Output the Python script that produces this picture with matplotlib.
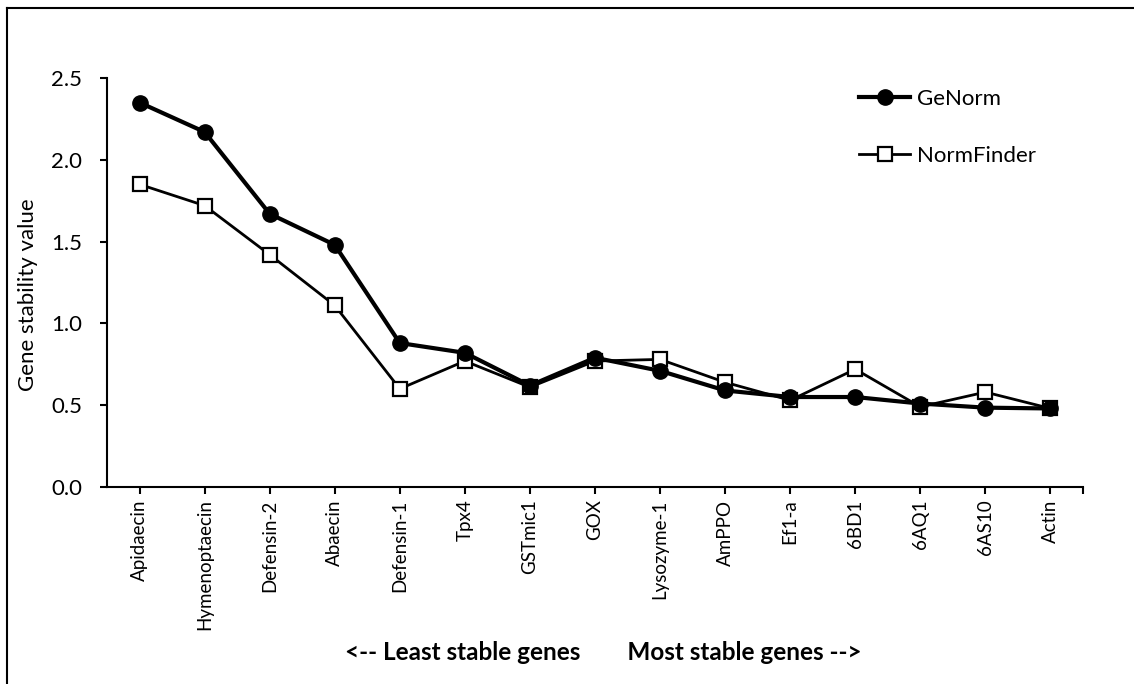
import numpy as np
import matplotlib
matplotlib.use('Agg')
import matplotlib.pyplot as plt
from matplotlib.lines import Line2D

plt.rcParams['font.family'] = ['Lato', 'DejaVu Sans']

genes = ['Apidaecin', 'Hymenoptaecin', 'Defensin-2', 'Abaecin', 'Defensin-1', 'Tpx4',
         'GSTmic1', 'GOX', 'Lysozyme-1', 'AmPPO', 'Ef1-a', '6BD1', '6AQ1', '6AS10', 'Actin']
genorm = [2.35, 2.17, 1.67, 1.48, 0.88, 0.82, 0.62, 0.79, 0.71, 0.59, 0.55, 0.55, 0.51, 0.485, 0.48]
normfinder = [1.85, 1.72, 1.42, 1.11, 0.60, 0.77, 0.61, 0.77, 0.78, 0.64, 0.53, 0.72, 0.49, 0.58, 0.48]
yticks = [0.0, 0.5, 1.0, 1.5, 2.0, 2.5]

W, H = 1134, 684
fig = plt.figure(figsize=(W / 100, H / 100), dpi=100)
ax = fig.add_axes([107 / W, 1 - 487 / H, 976 / W, 409 / H])

x = np.arange(len(genes))
ax.plot(x, normfinder, c='k', lw=2, marker='s', ms=10, mfc='white', mec='k', mew=1.6,
        label='NormFinder', zorder=2)
ax.plot(x, genorm, c='k', lw=3, marker='o', ms=11, mfc='k', mec='k',
        label='GeNorm', zorder=3)

ax.set_xlim(-0.5, len(genes) - 0.5)
ax.set_ylim(0, 2.5)
ax.set_yticks(yticks)
ax.set_yticklabels([f'{v:.1f}' for v in yticks], fontsize=16)
ax.set_xticks(x)
ax.set_xticklabels(genes, rotation=90, fontsize=13.5)
ax.set_xticks([len(genes) - 0.5], minor=True)
ax.tick_params(axis='x', which='both', direction='out', length=5, width=1.5, pad=4)
ax.tick_params(axis='y', direction='out', length=5, width=1.5, pad=13)

for s in ['top', 'right']:
    ax.spines[s].set_visible(False)
for s in ['left', 'bottom']:
    ax.spines[s].set_linewidth(1.5)

fig.text(28 / W, 1 - 295 / H, 'Gene stability value', rotation=90, fontsize=16,
         ha='center', va='center')

handles, labels = ax.get_legend_handles_labels()
ax.legend(handles[::-1], labels[::-1], loc='upper left', bbox_to_anchor=(859 / W, 1 - 89 / H),
          bbox_transform=fig.transFigure, frameon=False, fontsize=16, handlelength=2.3,
          handletextpad=0.3, labelspacing=1.65, borderaxespad=0, borderpad=0)

fig.text(603 / W, 1 - 653 / H, '<-- Least stable genes        Most stable genes -->',
         fontsize=17.5, fontweight='bold', ha='center', va='center')

# outer chart border (left and top edges visible)
fig.add_artist(Line2D([7 / W, 7 / W], [0, 1 - 8 / H], transform=fig.transFigure, c='k', lw=1.5))
fig.add_artist(Line2D([7 / W, 1], [1 - 8 / H, 1 - 8 / H], transform=fig.transFigure, c='k', lw=1.5))

fig.savefig('out.png', dpi=100)
